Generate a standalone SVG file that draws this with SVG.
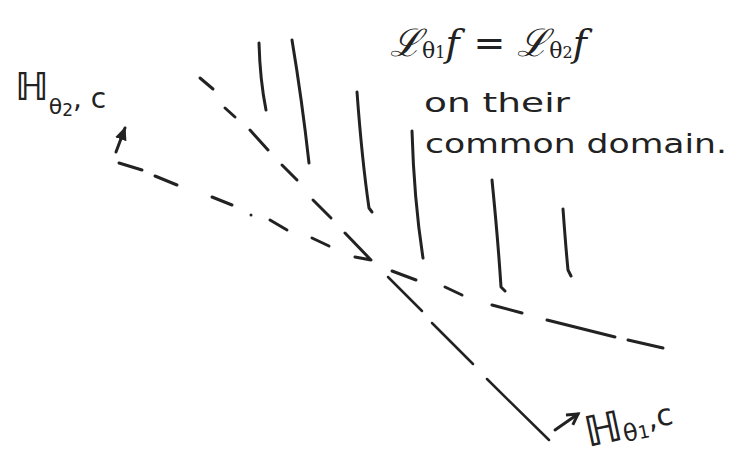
<svg xmlns="http://www.w3.org/2000/svg" width="742" height="465" viewBox="0 0 742 465">
<style>
.ink{fill:none;stroke:#222;stroke-width:3;stroke-linecap:round;stroke-linejoin:round}
.hand{fill:#222;font-family:"DejaVu Sans","Noto Sans",sans-serif}
.math{fill:#222;font-family:"DejaVu Serif","Liberation Serif",serif;font-style:italic}
</style>
<defs>
<marker id="ah" viewBox="0 0 10 10" refX="8" refY="5" markerWidth="5" markerHeight="5" orient="auto">
<path d="M0,1 L9,5 L0,9 z" fill="#222"/>
</marker>
<marker id="ao" viewBox="0 0 10 10" refX="8" refY="5" markerWidth="5" markerHeight="5" orient="auto">
<path d="M1,1 L8,5 L1,9" fill="none" stroke="#222" stroke-width="2"/>
</marker>
</defs>
<rect width="742" height="465" fill="#fff"/>
<g id="connectors">
<g id="line-theta1" class="ink">
<path d="M200,78 L213,89"/>
<path d="M225,108 L235,117"/>
<path d="M250,130 L268,150"/>
<path d="M282,165 L297,180"/>
<path d="M313,200 L331,218"/>
<path d="M345,233 L371,260 L355,257"/>
<path d="M388,277 L422,311" stroke-width="2.5"/>
<path d="M432,323 L473,364" stroke-width="2.5"/>
<path d="M487,379 L549,440" stroke-width="2.5"/>
</g>
<g id="line-theta2" class="ink">
<path d="M116,152 L125,128" marker-end="url(#ah)"/>
<path d="M119,163 L142,170"/>
<path d="M155,176 L177,185"/>
<path d="M212,197 L232,205"/>
<circle cx="251" cy="215" r="1.5" fill="#222" stroke="none"/>
<path d="M270,220 L287,230"/>
<path d="M312,238 L329,246"/>
<path d="M392,271 L416,280"/>
<path d="M445,287 L462,295"/>
<path d="M492,305 L522,313"/>
<path d="M547,320 L615,337"/>
<path d="M628,340 L663,348"/>
</g>
<g id="hatching" class="ink" stroke-width="2.5">
<path d="M259,43 Q260,80 266,110"/>
<path d="M292,40 Q302,100 309,163"/>
<path d="M357,92 Q362,160 369,208 L372,212"/>
<path d="M412,131 Q414,200 423,258"/>
<path d="M492,180 Q498,240 501,287 L505,291"/>
<path d="M563,209 Q566,250 568,270 L571,276"/>
</g>
<path id="arrow-theta1" class="ink" d="M555,430 L578,414" marker-end="url(#ao)"/>
</g>
<g id="label-H-theta2">
<text class="hand" x="15" y="100" font-size="38" font-weight="bold">ℍ<tspan font-size="22" dy="14" font-weight="normal">θ</tspan><tspan font-size="17" dy="2" font-weight="normal">2</tspan><tspan font-size="28" dy="-8" font-weight="normal">, c</tspan></text>
</g>
<g id="label-H-theta1">
<text class="hand" x="588" y="447" font-size="42" font-weight="bold" transform="rotate(-12 588 447)">ℍ<tspan font-size="24" dy="3" font-weight="normal">θ</tspan><tspan font-size="18" font-weight="normal">1</tspan><tspan font-size="30" dy="-8" font-weight="normal">,c</tspan></text>
</g>
<g id="label-equation">
<text class="math" x="390" y="56" font-size="38">ℒ<tspan font-size="22" dy="2" font-style="normal">θ</tspan><tspan font-size="16" font-style="normal">1</tspan><tspan dy="-2">f</tspan><tspan font-style="normal" dx="14">=</tspan><tspan dx="12">ℒ</tspan><tspan font-size="22" dy="2" font-style="normal">θ</tspan><tspan font-size="16" font-style="normal">2</tspan><tspan dy="-2">f</tspan></text>
</g>
<g id="label-note">
<text class="hand" x="424" y="112" font-size="27" textLength="146" lengthAdjust="spacingAndGlyphs">on their</text>
<text class="hand" x="425" y="153" font-size="27" textLength="302" lengthAdjust="spacingAndGlyphs">common domain.</text>
</g>
</svg>
